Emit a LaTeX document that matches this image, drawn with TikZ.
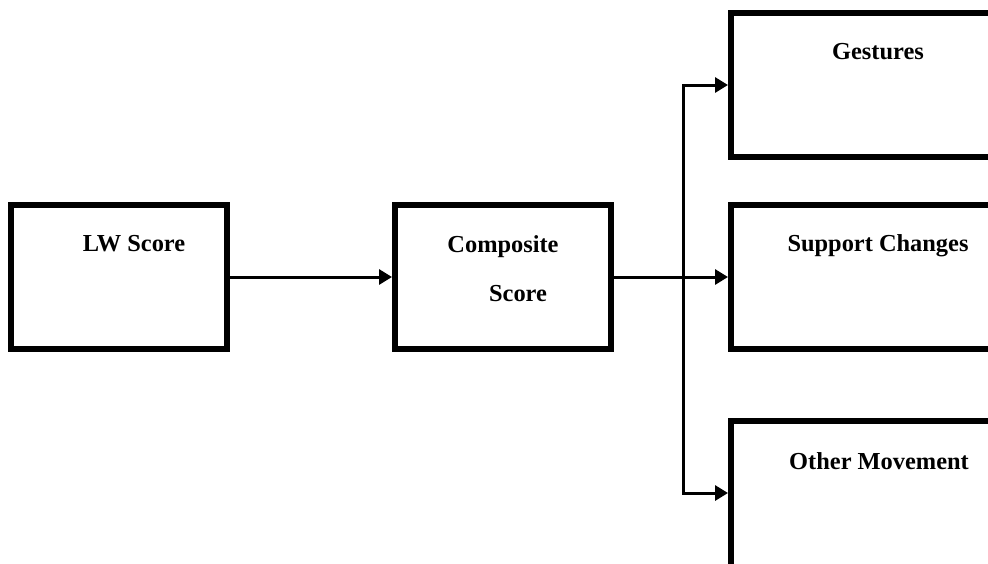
\documentclass[tikz,border=0pt]{standalone}
\usepackage{fontspec}
\setmainfont{Liberation Serif}
\usetikzlibrary{arrows.meta}
\begin{document}
\begin{tikzpicture}[x=0.5pt,y=-0.5pt,
  box/.style={draw=black,line width=3pt,minimum width=108pt,minimum height=72pt,inner sep=0pt,outer sep=0pt,anchor=north west},
  wbox/.style={box,minimum width=140pt},
  lbl/.style={font=\bfseries\fontsize{12.2}{14}\selectfont,anchor=base,inner sep=0pt},
  arr/.style={line width=1.5pt,shorten >=1.5pt,-{Triangle[length=6.5pt,width=7.5pt]}}]
\useasboundingbox (0,0) rectangle (988,563);
\node[box] (lw) at (11,205) {};
\node[box] (comp) at (395,205) {};
\node[wbox] (gest) at (731,13) {};
\node[wbox] (sup) at (731,205) {};
\node[wbox,minimum height=80pt] (oth) at (731,421) {};
\node[lbl] (tlw) at (134,251) {LW Score};
\node[lbl] (tcomp1) at (503,252) {Composite};
\node[lbl] (tcomp2) at (518,301) {Score};
\node[lbl] (tgest) at (878,59) {Gestures};
\node[lbl] (tsup) at (878,251) {Support Changes};
\node[lbl] (toth) at (879,469) {Other Movement};
\coordinate (split) at (683,277);
\draw[arr] (lw.east) -- (comp.west);
\draw[arr] (comp.east) -- (split) -- (sup.west);
\draw[arr] (split) |- (gest.west);
\draw[arr] (split) |- ([yshift=-36pt]oth.north west);
\end{tikzpicture}
\end{document}
